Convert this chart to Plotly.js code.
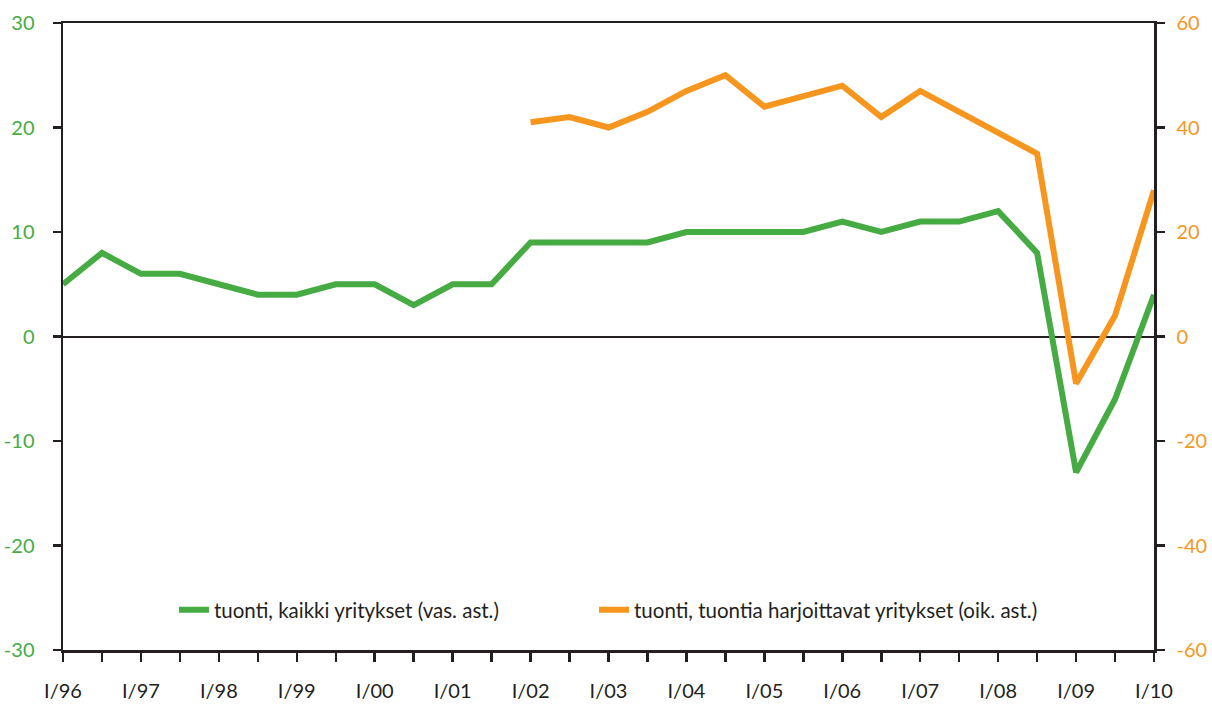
<!DOCTYPE html>
<html>
<head>
<meta charset="utf-8">
<script src="https://cdn.plot.ly/plotly-3.0.1.min.js"></script>
<style>html,body{margin:0;padding:0;background:#fff}#chart{width:1212px;height:706px}</style>
</head>
<body>
<div id="chart"></div>
<script>
// Half-year periods
var periods = ["I/96","II/96","I/97","II/97","I/98","II/98","I/99","II/99","I/00","II/00",
  "I/01","II/01","I/02","II/02","I/03","II/03","I/04","II/04","I/05","II/05",
  "I/06","II/06","I/07","II/07","I/08","II/08","I/09","II/09","I/10"];
// tuonti, kaikki yritykset (left axis)
var allFirms = [5,8,6,6,5,4,4,5,5,3,5,5,9,9,9,9,10,10,10,10,11,10,11,11,12,8,-13,-6,4];
// tuonti, tuontia harjoittavat yritykset (right axis), from I/02
var importPeriods = ["I/02","II/02","I/03","II/03","I/04","II/04","I/05","II/05",
  "I/06","II/06","I/07","II/07","I/08","II/08","I/09","II/09","I/10"];
var importFirms = [41,42,40,43,47,50,44,46,48,42,47,43,39,35,-9,4,28];
var tickLabels = periods.map(function(p){ return p.indexOf("I/")===0 ? p : ""; });
var leftTicks = [-30,-20,-10,0,10,20,30];
var leftTickText = ["-30","-20","-10","0","10","20","30"];
var rightTicks = [-60,-40,-20,0,20,40,60];
var rightTickText = ["-60","-40","-20","0","20","40","60"];

var green = "#46ab43", orange = "#f7961f", dark = "#231f20";
var fontFam = "Lato, 'Open Sans', sans-serif";

var traces = [
  {x: periods, y: allFirms, type: "scatter", mode: "lines", name: "tuonti, kaikki yritykset (vas. ast.)",
   line: {color: green, width: 6}, yaxis: "y", legend: "legend"},
  {x: importPeriods, y: importFirms, type: "scatter", mode: "lines", name: "tuonti, tuontia harjoittavat yritykset (oik. ast.)",
   line: {color: orange, width: 6}, yaxis: "y2", legend: "legend2"}
];

var legendBase = {orientation: "h", y: 0.064, xanchor: "left", yanchor: "middle",
  bgcolor: "rgba(0,0,0,0)", font: {size: 20.5, color: dark}};

var layout = {
  width: 1212, height: 706,
  margin: {l: 63, r: 58, t: 23, b: 56},
  paper_bgcolor: "#fff", plot_bgcolor: "#fff",
  font: {family: fontFam, size: 20, color: dark},
  showlegend: true,
  legend: Object.assign({}, legendBase, {x: 0.1017}),
  legend2: Object.assign({}, legendBase, {x: 0.4867}),
  xaxis: {type: "category", categoryorder: "array", categoryarray: periods,
    range: [0, periods.length - 1], tickmode: "array", tickvals: periods, ticktext: tickLabels,
    showline: true, linecolor: dark, linewidth: 2.5, mirror: true,
    ticks: "outside", ticklen: 9, tickwidth: 2.5, tickcolor: dark,
    showgrid: false, zeroline: false, tickangle: 0, ticklabelstandoff: 12,
    tickfont: {size: 20, color: dark}},
  yaxis: {range: [-30, 30], tickmode: "array", tickvals: leftTicks, ticktext: leftTickText, showgrid: false,
    showline: true, linecolor: dark, linewidth: 2.5,
    ticks: "outside", ticklen: 8, tickwidth: 2.5, tickcolor: dark,
    zeroline: true, zerolinecolor: dark, zerolinewidth: 2,
    tickfont: {size: 20, color: green}, ticklabelstandoff: 14},
  yaxis2: {range: [-60, 60], tickmode: "array", tickvals: rightTicks, ticktext: rightTickText,
    overlaying: "y", side: "right", showgrid: false,
    showline: true, linecolor: dark, linewidth: 2.5,
    ticks: "outside", ticklen: 8, tickwidth: 2.5, tickcolor: dark, zeroline: false,
    tickfont: {size: 20, color: orange}, ticklabelstandoff: 8}
};

Plotly.newPlot("chart", traces, layout, {displayModeBar: false, staticPlot: true});
</script>
</body>
</html>
